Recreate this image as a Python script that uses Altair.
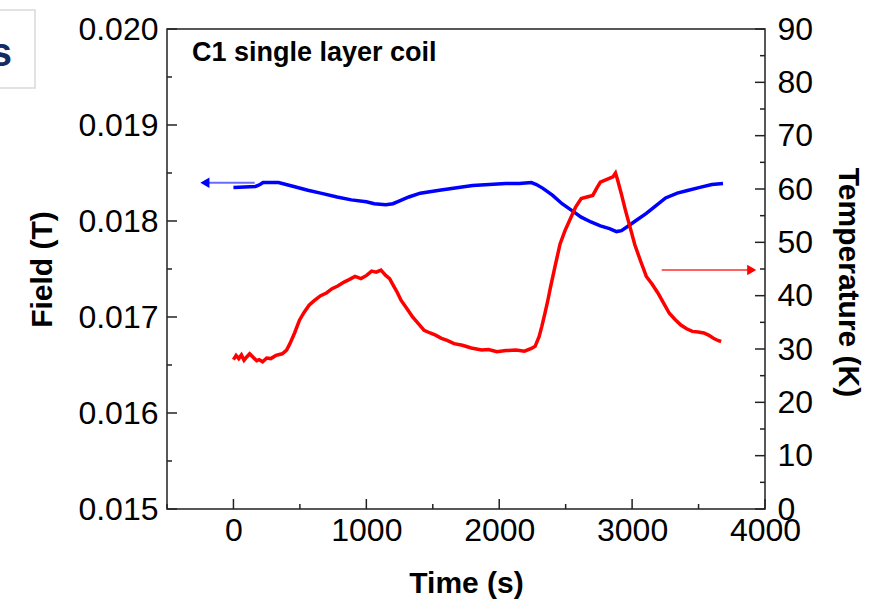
import altair as alt
import pandas as pd

# ---------------- data ----------------
t_field = [0, 166, 200, 223, 339, 454, 560, 656, 780, 887, 1000, 1060, 1146, 1200, 1233,
           1320, 1406, 1550, 1694, 1800, 1925, 2050, 2150, 2242, 2280, 2329, 2400, 2473,
           2545, 2617, 2690, 2761, 2830, 2882, 2920, 2963, 3035, 3107, 3180, 3252, 3340,
           3424, 3510, 3600, 3684]
field = [0.01835, 0.01836, 0.01838, 0.01840, 0.01840, 0.01836, 0.01832, 0.01829, 0.01825,
         0.01822, 0.01820, 0.01818, 0.01817, 0.01818, 0.01820, 0.01825, 0.01829, 0.01832,
         0.01835, 0.01837, 0.01838, 0.01839, 0.01839, 0.01840, 0.01838, 0.01834, 0.01827,
         0.01818, 0.01811, 0.01804, 0.01799, 0.01795, 0.01792, 0.01789, 0.01790, 0.01794,
         0.01801, 0.01808, 0.01816, 0.01824, 0.01829, 0.01832, 0.01835, 0.01838, 0.01839]

t_temp = [0, 20, 40, 60, 80, 100, 122, 150, 175, 194, 220, 250, 281, 320, 367, 400, 425,
          460, 497, 530, 569, 610, 656, 700, 742, 785, 829, 870, 915, 960, 1002, 1040, 1074,
          1110, 1146, 1175, 1204, 1233, 1262, 1305, 1348, 1390, 1435, 1480, 1521, 1565, 1608,
          1660, 1723, 1790, 1867, 1920, 1983, 2050, 2127, 2190, 2242, 2270, 2300, 2320, 2343,
          2365, 2386, 2420, 2458, 2495, 2531, 2575, 2617, 2660, 2704, 2735, 2761, 2810, 2856,
          2875, 2891, 2920, 2949, 2985, 3021, 3065, 3107, 3150, 3194, 3237, 3280, 3325, 3367,
          3410, 3453, 3497, 3540, 3575, 3612, 3645, 3670]
temp = [28.0, 28.8, 28.2, 28.9, 27.9, 28.5, 29.1, 28.4, 27.8, 28.0, 27.6, 28.3, 28.2, 28.8,
        29.1, 29.8, 31.0, 33.0, 35.4, 36.8, 38.2, 39.1, 40.0, 40.5, 41.3, 41.8, 42.5, 43.0,
        43.6, 43.2, 43.8, 44.6, 44.4, 44.8, 43.8, 43.2, 41.9, 40.6, 39.1, 37.6, 36.0, 34.8,
        33.5, 33.0, 32.6, 32.0, 31.6, 31.0, 30.7, 30.2, 29.8, 29.9, 29.5, 29.7, 29.8, 29.6,
        30.1, 30.5, 32.3, 34.2, 36.6, 39.0, 41.6, 45.5, 49.7, 52.2, 54.2, 56.6, 58.2, 58.5,
        58.8, 60.2, 61.3, 61.8, 62.3, 63.0, 61.7, 59.0, 56.1, 52.8, 49.5, 46.4, 43.6, 42.2,
        40.5, 38.6, 36.7, 35.5, 34.5, 33.8, 33.3, 33.2, 33.0, 32.6, 32.0, 31.6, 31.4]

# arrows (pointing to the axis each curve belongs to)
blue_arrow_t = [160, -215]
blue_arrow_v = [0.018399, 0.018399]
red_arrow_t = [3223, 3900]
red_arrow_v = [44.8, 44.8]

x_major = [0, 1000, 2000, 3000, 4000]
x_minor = [-500, 500, 1500, 2500, 3500]
left_major = [0.015, 0.016, 0.017, 0.018, 0.019, 0.020]
left_minor = [0.0155, 0.0165, 0.0175, 0.0185, 0.0195]
right_major = [0, 10, 20, 30, 40, 50, 60, 70, 80, 90]
right_minor = [5, 15, 25, 35, 45, 55, 65, 75, 85]

annotation = "C1 single layer coil"
corner_text = "s"

# ---------------- chart ----------------
W, H = 598, 480
FONT = "Liberation Sans, Arial, sans-serif"
xs = alt.Scale(domain=[-500, 4000], nice=False, zero=False)
ys_left = alt.Scale(domain=[0.015, 0.020], nice=False, zero=False)
ys_right = alt.Scale(domain=[0, 90], nice=False, zero=False)

df_field = pd.DataFrame({"t": t_field, "v": field})
df_temp = pd.DataFrame({"t": t_temp, "v": temp})
df_barrow = pd.DataFrame({"t": blue_arrow_t, "v": blue_arrow_v})
df_rarrow = pd.DataFrame({"t": red_arrow_t, "v": red_arrow_v})

X = alt.X("t:Q", scale=xs)
YL = alt.Y("v:Q", scale=ys_left)
YR = alt.Y("v:Q", scale=ys_right)

field_line = alt.Chart(df_field).mark_line(color="#0000ff", strokeWidth=3.5).encode(
    x=alt.X("t:Q", scale=xs,
            axis=alt.Axis(title="Time (s)", values=x_major, format="d", labelPadding=6,
                          titlePadding=22)),
    y=alt.Y("v:Q", scale=ys_left,
            axis=alt.Axis(title="Field (T)", values=left_major, format=".3f", orient="left",
                          labelPadding=9, titlePadding=20)),
)

barrow_line = alt.Chart(df_barrow).mark_line(color="#6a6aff", strokeWidth=2).encode(x=X, y=YL)
barrow_head = alt.Chart(df_barrow.iloc[[1]]).mark_point(
    shape="triangle-left", filled=True, color="#0000ff", opacity=1, size=110).encode(x=X, y=YL)

def rules_x(vals, length):
    return alt.Chart(pd.DataFrame({"t": vals})).mark_rule(color="#222", strokeWidth=1.5).encode(
        x=X, y=alt.value(H), y2=alt.value(H - length))

def rules_left(vals, length):
    return alt.Chart(pd.DataFrame({"v": vals})).mark_rule(color="#222", strokeWidth=1.5).encode(
        y=YL, x=alt.value(0), x2=alt.value(length))

def rules_right(vals, length):
    return alt.Chart(pd.DataFrame({"v": vals})).mark_rule(color="#222", strokeWidth=1.5).encode(
        y=YR, x=alt.value(W), x2=alt.value(W - length))

ann = alt.Chart(pd.DataFrame({"label": [annotation]})).mark_text(
    align="left", baseline="alphabetic", font=FONT, fontSize=27, fontWeight="bold",
    color="#000").encode(text="label:N", x=alt.value(25), y=alt.value(32))

box = alt.Chart(pd.DataFrame({"k": [1]})).mark_rect(
    fill="white", stroke="#d9d9d9", strokeWidth=1.5).encode(
    x=alt.value(-185), x2=alt.value(-132), y=alt.value(-19), y2=alt.value(59))
corner = alt.Chart(pd.DataFrame({"label": [corner_text]})).mark_text(
    align="right", baseline="middle", font=FONT, fontSize=40, fontWeight="bold",
    color="#142c66").encode(text="label:N", x=alt.value(-155), y=alt.value(25))

left_group = alt.layer(
    field_line,
    box, corner,
    rules_x(x_major, 10), rules_x(x_minor, 5),
    rules_left(left_major, 10), rules_left(left_minor, 5),
    barrow_line, barrow_head, ann,
)

temp_line = alt.Chart(df_temp).mark_line(color="#ff0000", strokeWidth=3.5).encode(
    x=X,
    y=alt.Y("v:Q", scale=ys_right,
            axis=alt.Axis(title="Temperature (K)", values=right_major, format="d",
                          orient="right", labelPadding=12, titlePadding=20, titleAngle=90,
                          titleY=253)),
)
rarrow_line = alt.Chart(df_rarrow).mark_line(color="#ff6060", strokeWidth=2).encode(x=X, y=YR)
rarrow_head = alt.Chart(df_rarrow.iloc[[1]]).mark_point(
    shape="triangle-right", filled=True, color="#ff0000", opacity=1, size=110).encode(x=X, y=YR)

right_group = alt.layer(
    temp_line,
    rules_right(right_major, 10), rules_right(right_minor, 5),
    rarrow_line, rarrow_head,
)

chart = alt.layer(left_group, right_group).resolve_scale(y="independent").properties(
    width=W, height=H,
    autosize=alt.AutoSizeParams(type="none"),
    padding={"left": 167, "top": 29, "right": 104, "bottom": 95},
    background="white",
).configure_view(stroke="#222", strokeWidth=1.5).configure_axis(
    grid=False, domain=False, ticks=False, tickSize=0,
    labelFont=FONT, labelFontSize=32, labelColor="#000",
    titleFont=FONT, titleFontSize=30, titleFontWeight="bold", titleColor="#000",
    labelFlush=False, labelOverlap=False,
)

chart.save("out.html", embed_options={"renderer": "svg", "actions": False})
